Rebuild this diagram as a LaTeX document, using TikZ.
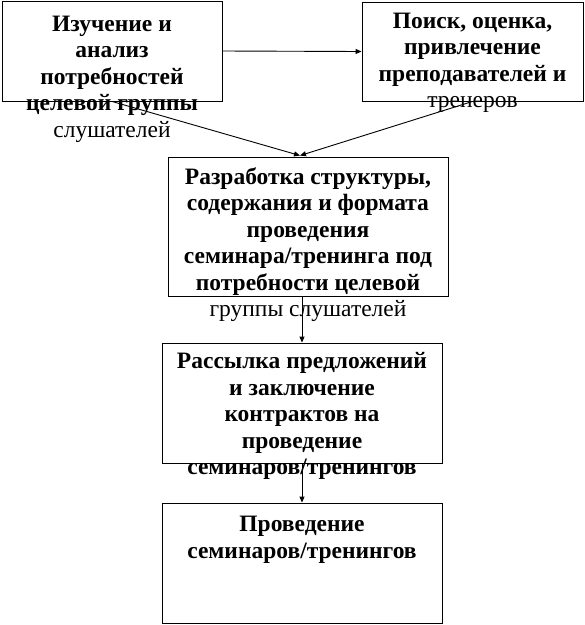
\documentclass[tikz,border=0pt]{standalone}
\usepackage{fontspec}
\setmainfont{Liberation Serif}
\usetikzlibrary{arrows.meta}

\begin{document}
\begin{tikzpicture}[x=1pt,y={(0pt,-1pt)},>={Triangle[length=6pt,width=5pt]},line width=0.9pt,
  box/.style={draw,rectangle,inner sep=0pt},
  txt/.style={anchor=north,align=center,inner sep=0pt,font=\fontsize{23.5}{26.5}\selectfont\bfseries}]
\useasboundingbox (0,0) rectangle (585,625);
% boxes
\node[box,minimum width=220pt,minimum height=100pt] (study) at (112,51) {};
\node[box,minimum width=221pt,minimum height=99pt] (search) at (472.5,51.5) {};
\node[box,minimum width=280pt,minimum height=139pt] (design) at (308,226.5) {};
\node[box,minimum width=280pt,minimum height=120pt] (mail) at (302,403) {};
\node[box,minimum width=280pt,minimum height=120pt] (run) at (302,563) {};
% texts
\node[txt] (studyt) at ([yshift=-15pt]study.north) {Изучение и\\анализ\\потребностей\\целевой группы\\{\mdseries слушателей}};
\node[txt] (searcht) at ([yshift=-11pt]search.north) {Поиск, оценка,\\привлечение\\преподавателей и\\{\mdseries тренеров}};
\node[txt] (designt) at ([yshift=-10.5pt]design.north) {Разработка структуры,\\содержания и формата\\проведения\\семинара/тренинга под\\потребности целевой\\{\mdseries группы слушателей}};
\node[txt] (mailt) at ([yshift=-9.5pt]mail.north) {Рассылка предложений\\и заключение\\контрактов на\\проведение\\семинаров/тренингов};
\node[txt] (runt) at ([yshift=-13.5pt]run.north) {Проведение\\семинаров/тренингов};
% connectors
\draw[->] (study.east) -- (search.west);
\draw[->] (study.south) -- ([xshift=-8pt,yshift=1pt]design.north);
\draw[->] (search.south) -- ([xshift=-8pt,yshift=1pt]design.north);
\draw[->] (design.south -| mail.north) -- (mail.north);
\draw[->] (mail.south) -- (run.north);
\end{tikzpicture}
\end{document}
